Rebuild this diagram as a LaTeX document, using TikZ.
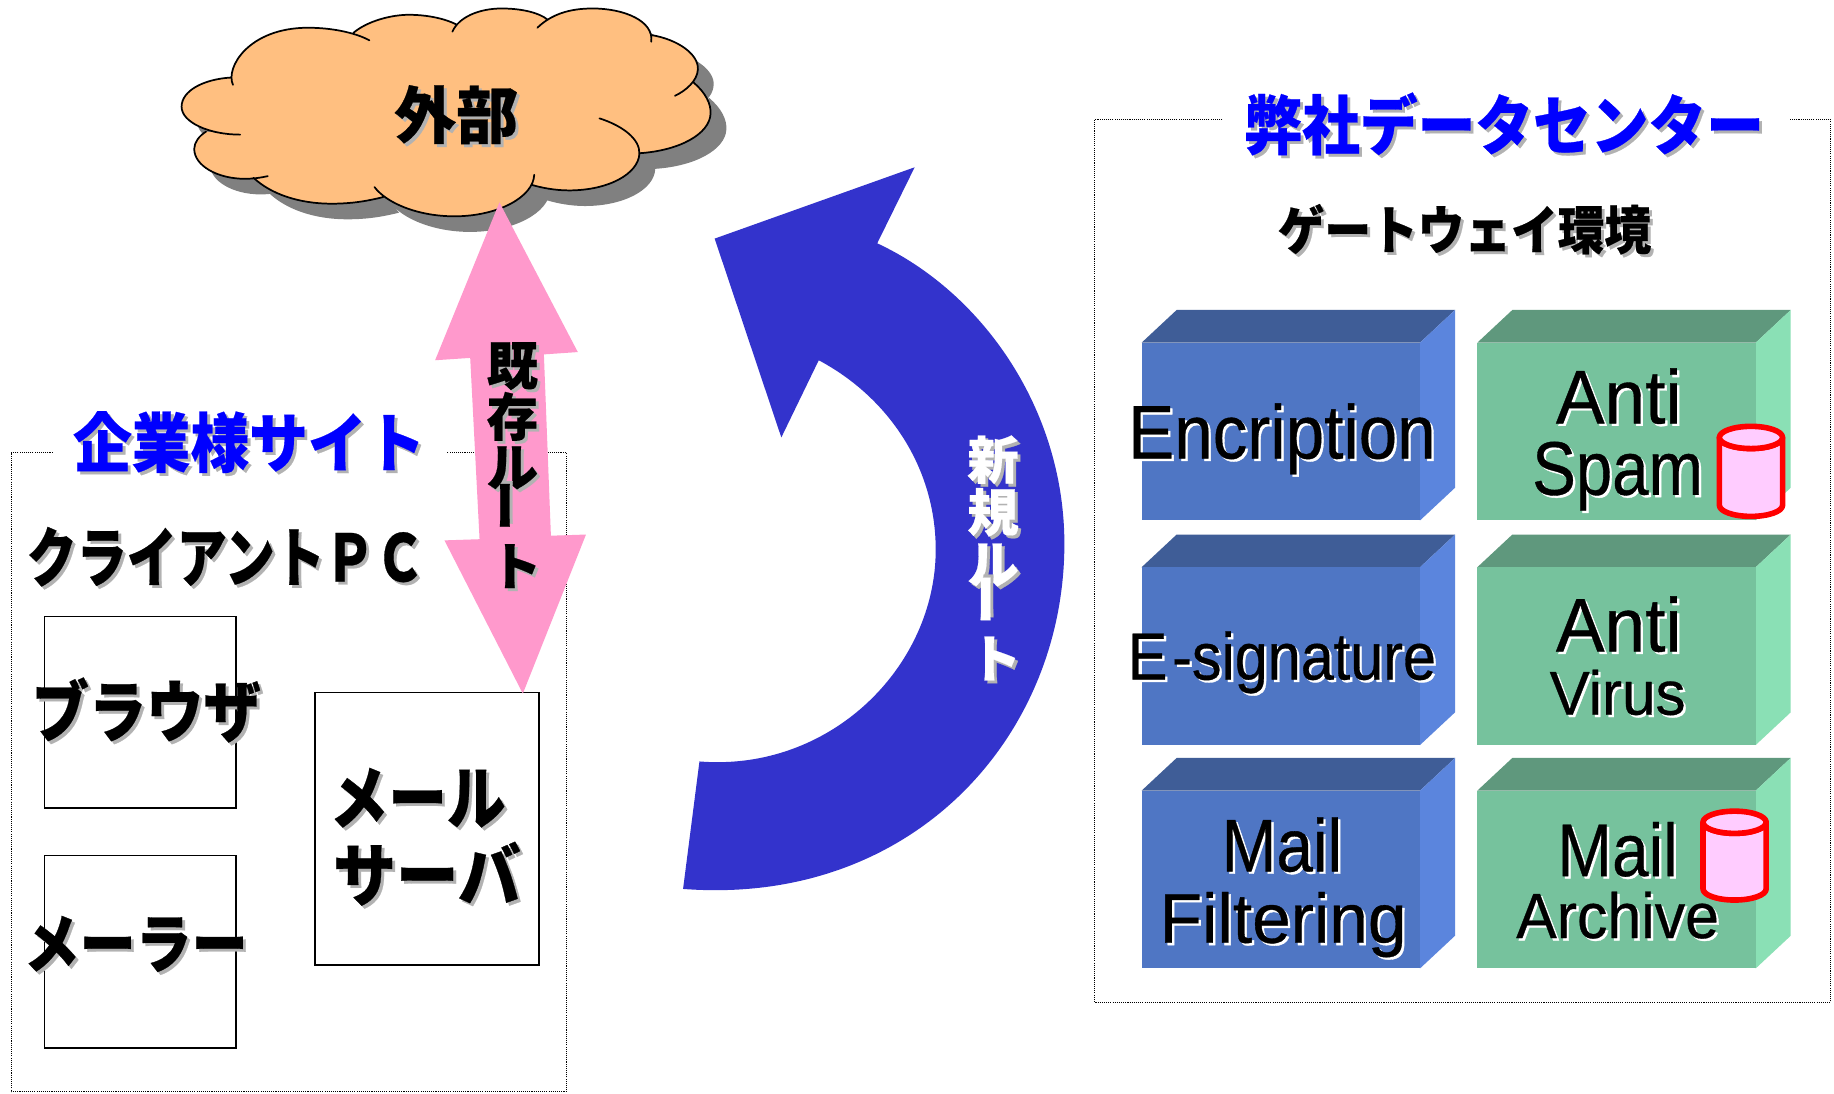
\documentclass[tikz,border=0pt]{standalone}
\usepackage{graphicx}
\usepackage{fontspec}
\setmainfont{Liberation Sans}
\newfontfamily\lat[FakeBold=0.5]{Liberation Sans}
\newfontfamily\cjk[BoldFeatures={FakeBold=0.4}]{Noto Sans CJK JP}
\definecolor{cloudfill}{HTML}{FFBF80}
\definecolor{pinkarrow}{HTML}{FF99CC}
\definecolor{bluearrow}{HTML}{3333CC}
\definecolor{titleblue}{HTML}{0000FF}
\definecolor{bfront}{HTML}{4F76C4}
\definecolor{btop}{HTML}{3F5D97}
\definecolor{bside}{HTML}{5B85DD}
\definecolor{gfront}{HTML}{76C29D}
\definecolor{gtop}{HTML}{5F987D}
\definecolor{gside}{HTML}{8AE0B5}
\definecolor{cylfill}{HTML}{FFCCFF}
\definecolor{softgray}{HTML}{B2B2B2}
\definecolor{cloudshadow}{HTML}{808080}
\tikzset{
  lbl/.style={inner sep=0pt,outer sep=0pt},
  frameline/.style={draw=black,line width=0.8pt,dash pattern=on 0.8pt off 0.8pt},
  plainbox/.style={draw=black,line width=1.3pt,fill=white},
  cylline/.style={draw=red,line width=4.2pt,fill=cylfill,line join=round},
  cloudline/.style={draw=black,line width=1.3pt,line cap=round},
}
% name, position, shadow colour, text colour, size pt, rotation, text (CJK bold)
\newcommand{\JT}[7]{%
  \node[lbl,rotate=#6,text=#3,shift={(2.5,2.5)}] (#1s) at (#2) {\cjk\bfseries\fontsize{#5}{#5}\selectfont #7};
  \node[lbl,rotate=#6,text=#4] (#1) at (#2) {\cjk\bfseries\fontsize{#5}{#5}\selectfont #7};}
% name, baseline position, size pt, xscale, text
\newcommand{\LT}[5]{%
  \node[lbl,anchor=base,text=white,shift={(2,2)}] (#1s) at (#2) {\lat\fontsize{#3}{#3}\selectfont\scalebox{#4}[1]{#5}};
  \node[lbl,anchor=base,text=black] (#1) at (#2) {\lat\fontsize{#3}{#3}\selectfont\scalebox{#4}[1]{#5}};}
% cube: x, y of front top-left; colours
\newcommand{\CUBE}[5]{%
  \fill[#3] (#1,#2) -- ++(30,-28) -- ++(238,0) -- ++(-30,28) -- cycle;
  \fill[#4] (#1+238,#2) -- ++(30,-28) -- ++(0,152) -- ++(-30,28) -- cycle;
  \fill[#5] (#1,#2) rectangle ++(238,152);}
% cylinder: left x, top y, bottom y
\newcommand{\CYL}[3]{%
  \path[cylline] (#1,#2+11) -- (#1,#3-11) arc[start angle=180,end angle=360,x radius=27,y radius=-9.5] -- (#1+54,#2+11) arc[start angle=0,end angle=-180,x radius=27,y radius=-9.5] -- cycle;
  \path[cylline] (#1+27,#2+11) ellipse[x radius=27,y radius=9.5];}
\begin{document}
\begin{tikzpicture}[x=0.8772pt,y=-0.8772pt]
\useasboundingbox (0,0) rectangle (1568,934.5);
\fill[white] (0,0) rectangle (1568,934.5);

% frames
\draw[frameline] (45,387) -- (9.5,387) -- (9.5,933.5) -- (484,933.5) -- (484,387) -- (382,387);
\draw[frameline] (1045,102) -- (936,102) -- (936,857) -- (1565,857) -- (1565,102) -- (1530,102);

% cloud
\begin{scope}[shift={(128.2,1)},x=0.2965pt,y=-0.249pt]
  \begin{scope}[shift={(40,47)}]
    \fill[cloudshadow] (210,252) .. controls (190,200) and (250,80) .. (400,80) .. controls (460,80) and (520,95) .. (555,118)
    -- (515,95) .. controls (550,60) and (610,41) .. (655,41) .. controls (700,41) and (745,52) .. (775,70)
    -- (765,92) .. controls (780,50) and (830,22) .. (890,22) .. controls (940,22) and (985,35) .. (1005,55)
    -- (980,80) .. controls (1015,40) and (1060,22) .. (1120,22) .. controls (1200,22) and (1275,60) .. (1268,122)
    -- (1268,102) .. controls (1335,115) and (1388,160) .. (1386,205) .. controls (1385,240) and (1355,270) .. (1328,285)
    -- (1375,245) .. controls (1405,275) and (1420,310) .. (1418,340) .. controls (1415,400) and (1340,450) .. (1238,458)
    -- (1137,353) .. controls (1195,375) and (1240,415) .. (1238,460) .. controls (1235,520) and (1160,570) .. (1060,570) .. controls (1025,570) and (990,562) .. (965,553)
    -- (972,523) .. controls (970,590) and (880,648) .. (770,648) .. controls (680,648) and (600,610) .. (568,560)
    -- (590,590) .. controls (550,602) and (510,610) .. (460,610) .. controls (375,610) and (305,580) .. (262,532)
    -- (298,527) .. controls (280,532) and (260,535) .. (240,535) .. controls (170,535) and (112,495) .. (112,445) .. controls (112,425) and (125,405) .. (142,393)
    -- (228,402) .. controls (150,402) and (80,365) .. (80,318) .. controls (80,270) and (135,235) .. (205,230) -- cycle;
  \end{scope}
  \fill[cloudfill] (210,252) .. controls (190,200) and (250,80) .. (400,80) .. controls (460,80) and (520,95) .. (555,118)
    -- (515,95) .. controls (550,60) and (610,41) .. (655,41) .. controls (700,41) and (745,52) .. (775,70)
    -- (765,92) .. controls (780,50) and (830,22) .. (890,22) .. controls (940,22) and (985,35) .. (1005,55)
    -- (980,80) .. controls (1015,40) and (1060,22) .. (1120,22) .. controls (1200,22) and (1275,60) .. (1268,122)
    -- (1268,102) .. controls (1335,115) and (1388,160) .. (1386,205) .. controls (1385,240) and (1355,270) .. (1328,285)
    -- (1375,245) .. controls (1405,275) and (1420,310) .. (1418,340) .. controls (1415,400) and (1340,450) .. (1238,458)
    -- (1137,353) .. controls (1195,375) and (1240,415) .. (1238,460) .. controls (1235,520) and (1160,570) .. (1060,570) .. controls (1025,570) and (990,562) .. (965,553)
    -- (972,523) .. controls (970,590) and (880,648) .. (770,648) .. controls (680,648) and (600,610) .. (568,560)
    -- (590,590) .. controls (550,602) and (510,610) .. (460,610) .. controls (375,610) and (305,580) .. (262,532)
    -- (298,527) .. controls (280,532) and (260,535) .. (240,535) .. controls (170,535) and (112,495) .. (112,445) .. controls (112,425) and (125,405) .. (142,393)
    -- (228,402) .. controls (150,402) and (80,365) .. (80,318) .. controls (80,270) and (135,235) .. (205,230) -- cycle;
  \draw[cloudline] (210,252) .. controls (190,200) and (250,80) .. (400,80) .. controls (460,80) and (520,95) .. (555,118)
    (515,95) .. controls (550,60) and (610,41) .. (655,41) .. controls (700,41) and (745,52) .. (775,70)
    (765,92) .. controls (780,50) and (830,22) .. (890,22) .. controls (940,22) and (985,35) .. (1005,55)
    (980,80) .. controls (1015,40) and (1060,22) .. (1120,22) .. controls (1200,22) and (1275,60) .. (1268,122)
    (1268,102) .. controls (1335,115) and (1388,160) .. (1386,205) .. controls (1385,240) and (1355,270) .. (1328,285)
    (1375,245) .. controls (1405,275) and (1420,310) .. (1418,340) .. controls (1415,400) and (1340,450) .. (1238,458)
    (1137,353) .. controls (1195,375) and (1240,415) .. (1238,460) .. controls (1235,520) and (1160,570) .. (1060,570) .. controls (1025,570) and (990,562) .. (965,553)
    (972,523) .. controls (970,590) and (880,648) .. (770,648) .. controls (680,648) and (600,610) .. (568,560)
    (590,590) .. controls (550,602) and (510,610) .. (460,610) .. controls (375,610) and (305,580) .. (262,532)
    (298,527) .. controls (280,532) and (260,535) .. (240,535) .. controls (170,535) and (112,495) .. (112,445) .. controls (112,425) and (125,405) .. (142,393)
    (228,402) .. controls (150,402) and (80,365) .. (80,318) .. controls (80,270) and (135,235) .. (205,230);
\end{scope}

% plain boxes
\path[plainbox] (38,527) rectangle (202,691);
\path[plainbox] (38,731.5) rectangle (202,896);
\path[plainbox] (269,592) rectangle (461,825);

% pink double arrow
\fill[pinkarrow] (427,173) -- (494,301) -- (465,303) -- (471,458) -- (501,457) -- (447,593) -- (380,462) -- (410,461) -- (402,306) -- (372,308) -- cycle;

% blue curved arrow
\fill[bluearrow] (584,760) .. controls (780,775) and (910,630) .. (910,465) .. controls (910,350) and (840,250) .. (750,208)
  -- (782,143) -- (611,204) -- (668,374) -- (700,308)
  .. controls (760,340) and (800,400) .. (800,470) .. controls (800,570) and (710,660) .. (598,651) -- cycle;

% cubes
\CUBE{976}{293}{btop}{bside}{bfront}
\CUBE{976}{485}{btop}{bside}{bfront}
\CUBE{976}{676}{btop}{bside}{bfront}
\CUBE{1263}{293}{gtop}{gside}{gfront}
\CUBE{1263}{485}{gtop}{gside}{gfront}
\CUBE{1263}{676}{gtop}{gside}{gfront}

% cube labels
\LT{enc}{1096,392}{57}{0.91}{Encription}
\LT{esig}{1096,581}{50}{0.89}{E\hspace{0.08em}-signature}
\LT{mail}{1096,745}{56}{0.88}{Mail}
\LT{filt}{1097,806}{52.6}{0.99}{Filtering}
\LT{anti}{1384,362}{57}{0.96}{Anti}
\LT{spam}{1383,423}{57}{0.86}{Spam}
\LT{antib}{1384,557}{57}{0.96}{Anti}
\LT{virus}{1383,611}{46.5}{0.97}{Virus}
\LT{mailb}{1383,749}{56}{0.88}{Mail}
\LT{arch}{1383,802}{48}{0.95}{Archive}

% cylinders
\CYL{1470}{363}{443}
\CYL{1456}{692}{771}

% titles and labels
\JT{gaibu}{390,98}{softgray}{black}{46.5}{0}{外部}
\JT{heisha}{1286,106}{softgray}{titleblue}{43.3}{0}{\scalebox{1}[1.12]{弊社データセンター}}
\JT{gw}{1252,196}{softgray}{black}{35}{0}{\scalebox{1}[1.12]{ゲートウェイ環境}}
\JT{kigyo}{213,378}{softgray}{titleblue}{44}{0}{\scalebox{1}[1.1]{企業様サイト}}
\JT{client}{193,476}{softgray}{black}{37.5}{0}{\scalebox{1}[1.3]{クライアントＰＣ}}
\JT{browser}{125,607}{softgray}{black}{43}{0}{\scalebox{1}[1.18]{ブラウザ}}
\JT{mailer}{116,807}{softgray}{black}{42}{0}{\scalebox{1}[1.15]{メーラー}}
\JT{mserv}{357,682}{softgray}{black}{44}{0}{\scalebox{1}[1.18]{メール}}
\JT{sserv}{365,747}{softgray}{black}{47}{0}{\scalebox{1}[1.1]{サーバ}}

% existing route, vertical
\JT{kia}{438,313}{softgray}{black}{38.6}{0}{既}
\JT{kib}{438,356}{softgray}{black}{38.6}{0}{存}
\JT{kic}{438,400}{softgray}{black}{38.6}{0}{ル}
\JT{kid}{438,432}{softgray}{black}{38.6}{90}{ー}
\JT{kie}{441,484}{softgray}{black}{38.6}{0}{ト}

% new route, vertical
\JT{sha}{849,393}{softgray}{white}{38.6}{0}{新}
\JT{shb}{849,438}{softgray}{white}{38.6}{0}{規}
\JT{shc}{849,483}{softgray}{white}{38.6}{0}{ル}
\JT{shd}{849,512}{softgray}{white}{38.6}{90}{ー}
\JT{she}{851,563}{softgray}{white}{38.6}{0}{ト}
\end{tikzpicture}
\end{document}
